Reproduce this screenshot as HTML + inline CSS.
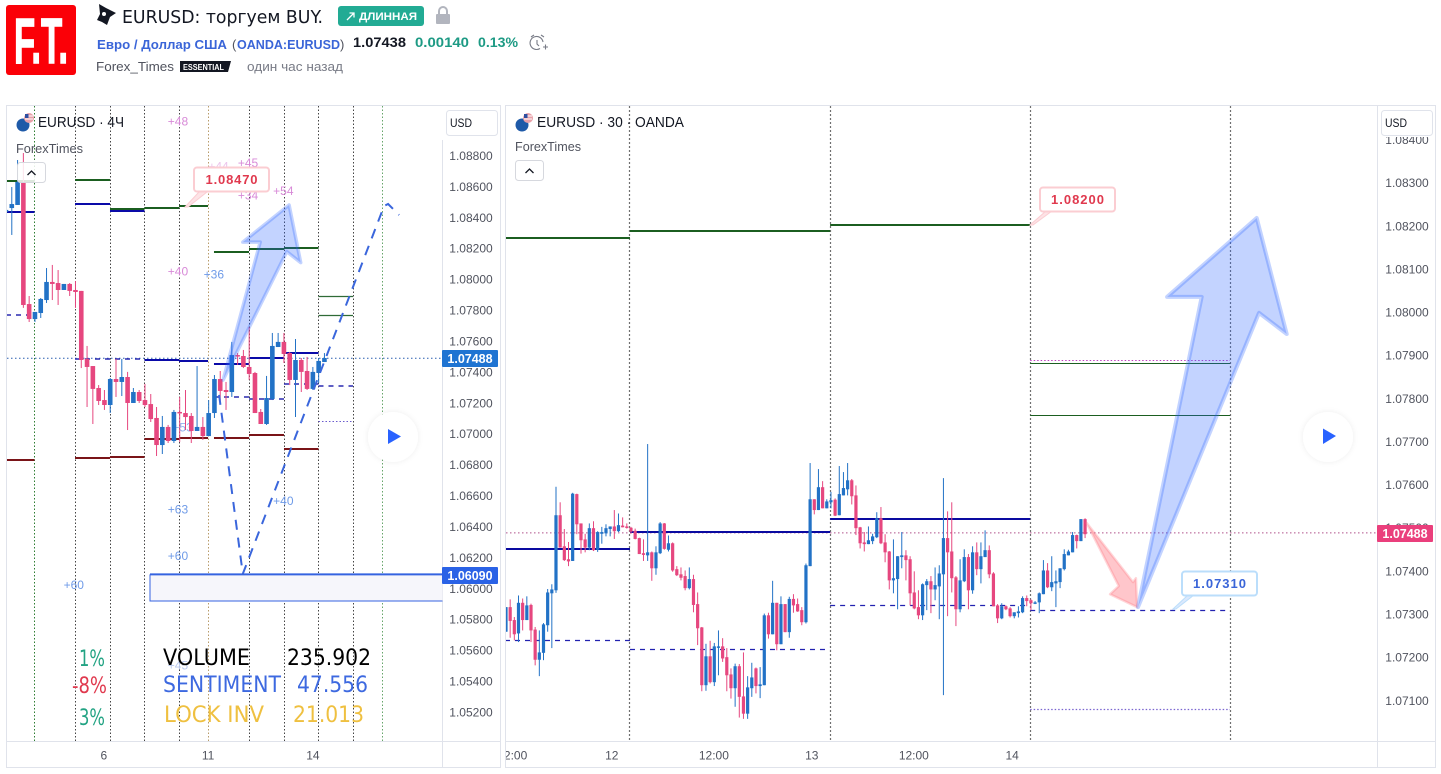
<!DOCTYPE html>
<html lang="ru">
<head>
<meta charset="utf-8">
<title>EURUSD: торгуем BUY.</title>
<style>
html,body{margin:0;padding:0;background:#fff;}
body{width:1441px;height:774px;overflow:hidden;}
svg{display:block;font-family:"Liberation Sans","Noto Sans CJK SC",sans-serif;}
</style>
</head>
<body>
<svg id="stage" xmlns="http://www.w3.org/2000/svg" width="1441" height="774" viewBox="0 0 1441 774">
  <defs>
    <clipPath id="left-clip"><rect x="7" y="106" width="435.5" height="635"/></clipPath>
    <clipPath id="right-clip"><rect x="506" y="106" width="871" height="635"/></clipPath>
    <clipPath id="right-time-clip"><rect x="506" y="742" width="871" height="25"/></clipPath>
    <filter id="soft" x="-30%" y="-30%" width="160%" height="160%"><feDropShadow dx="0" dy="0" stdDeviation="3" flood-color="#000" flood-opacity="0.07"/></filter>
  </defs>
  <rect width="1441" height="774" fill="#ffffff"/>

  <g>
    <g>
      <rect x="6" y="5" width="70" height="70" rx="3" fill="#fb0007"/>
      <text x="14" y="63" font-size="64" font-weight="700" fill="#fff" stroke="#fff" stroke-width="1.500" textLength="54" lengthAdjust="spacingAndGlyphs">F.T.</text>
    </g>
    <polygon points="99,4 106,8 116,13 110,17 107,25 102,22 97,20 100,14" fill="#131722"/>
    <circle cx="104" cy="14" r="2" fill="#fff"/>
    <text x="122" y="23" font-size="18" font-family="DejaVu Sans, sans-serif" fill="#131722" textLength="201" lengthAdjust="spacingAndGlyphs">EURUSD: торгуем BUY.</text>
    <g>
      <rect x="338" y="6" width="86" height="20" rx="3" fill="#22ab94"/>
      <path d="M347 20 L354 13 M349.500 13 L354 13 L354 17.500" stroke="#fff" stroke-width="1.300" fill="none"/>
      <text x="359" y="20" font-size="11" font-weight="700" fill="#fff" textLength="58" lengthAdjust="spacingAndGlyphs">ДЛИННАЯ</text>
    </g>
    <g>
      <path d="M439 14 V11 a4 4 0 0 1 8 0 V14" fill="none" stroke="#b2b5be" stroke-width="2"/>
      <rect x="436" y="14" width="14" height="10" rx="1" fill="#b2b5be"/>
    </g>
    <text x="97" y="49" font-size="12.500" font-weight="700" fill="#3a65d8" textLength="130" lengthAdjust="spacingAndGlyphs">Евро / Доллар США</text>
    <text x="232" y="49" font-size="13" fill="#50535e">(</text>
    <text x="237" y="49" font-size="12.500" font-weight="700" fill="#3a65d8" textLength="103" lengthAdjust="spacingAndGlyphs">OANDA:EURUSD</text>
    <text x="340" y="49" font-size="13" fill="#50535e">)</text>
    <text x="353" y="47" font-size="13.500" font-weight="700" fill="#131722" textLength="53" lengthAdjust="spacingAndGlyphs">1.07438</text>
    <text x="415" y="47" font-size="13.500" font-weight="700" fill="#1d9a84" textLength="54" lengthAdjust="spacingAndGlyphs">0.00140</text>
    <text x="478" y="47" font-size="13.500" font-weight="700" fill="#1d9a84" textLength="40" lengthAdjust="spacingAndGlyphs">0.13%</text>
    <g fill="none" stroke="#787b86" stroke-width="1.100">
      <path d="M543 42 a6.500 6.500 0 1 0 -3 6.500"/>
      <path d="M537 40 v4 l2 2 M531 37 l3 -2 M541 35 l3 2 M543 47 h5 M545.500 44.500 v5"/>
    </g>
    <text x="96" y="71" font-size="13" fill="#50535e" textLength="78" lengthAdjust="spacingAndGlyphs">Forex_Times</text>
    <g>
      <polygon points="180,61 231,61 228,72 180,72" fill="#131722"/>
      <text x="183" y="70" font-size="8" font-weight="700" fill="#fff" textLength="41" lengthAdjust="spacingAndGlyphs">ESSENTIAL</text>
    </g>
    <text x="247" y="71" font-size="13" fill="#787b86" textLength="96" lengthAdjust="spacingAndGlyphs">один час назад</text>
  </g>

  <g fill="none" stroke="#e0e3eb" stroke-width="1">
    <rect x="6.500" y="105.500" width="494" height="662"/>
    <path d="M442.500 140 V767 M7 741.500 H500"/>
  </g>
  <g fill="none" stroke="#e0e3eb" stroke-width="1">
    <rect x="505.500" y="105.500" width="930" height="662"/>
    <path d="M1377.500 106 V767 M506 741.500 H1435"/>
  </g>

  <g id="left-plot" clip-path="url(#left-clip)"></g>
  <g id="right-plot" clip-path="url(#right-clip)"></g>

  <g id="left-axis" font-size="12" fill="#50535e" text-anchor="middle"></g>
  <g id="right-axis" font-size="12" fill="#50535e" text-anchor="middle"></g>
  <g id="left-time" font-size="12" fill="#50535e" text-anchor="middle"></g>
  <g id="right-time" font-size="12" fill="#50535e" text-anchor="middle" clip-path="url(#right-time-clip)"></g>

  <rect x="443" y="106" width="57" height="33" fill="#fff"/>
  <rect x="1378" y="106" width="57" height="31" fill="#fff"/>
  <g>
    <rect x="446.500" y="110.500" width="51" height="25" rx="3" fill="#fff" stroke="#e0e3eb"/>
    <text x="450" y="127" font-size="12" fill="#131722" textLength="22" lengthAdjust="spacingAndGlyphs">USD</text>
  </g>
  <g>
    <rect x="1381.500" y="110.500" width="51" height="25" rx="3" fill="#fff" stroke="#e0e3eb"/>
    <text x="1385" y="127" font-size="12" fill="#131722" textLength="22" lengthAdjust="spacingAndGlyphs">USD</text>
  </g>

  <g>
    <rect x="442" y="350" width="56" height="17" rx="1" fill="#1f74d2"/>
    <text x="470" y="363" font-size="12.500" font-weight="700" fill="#fff" text-anchor="middle">1.07488</text>
  </g>
  <g>
    <rect x="442" y="567" width="56" height="17" rx="1" fill="#2a62e6"/>
    <text x="470" y="580" font-size="12.500" font-weight="700" fill="#fff" text-anchor="middle">1.06090</text>
  </g>
  <g>
    <rect x="1377" y="525" width="56" height="17" rx="1" fill="#ea3f7c"/>
    <text x="1405" y="538" font-size="12.500" font-weight="700" fill="#fff" text-anchor="middle">1.07488</text>
  </g>

  <g>
    <circle cx="23" cy="125" r="6.500" fill="#1e5aa8"/>
    <circle cx="29" cy="118" r="5" fill="#e8a0a8"/>
    <path d="M25 116 h8 M25 119 h8" stroke="#fff" stroke-width="1"/>
    <rect x="25" y="114" width="3.500" height="4" fill="#2d4fa0"/>
    <text x="38" y="127" font-size="15" fill="#131722" textLength="86" lengthAdjust="spacingAndGlyphs">EURUSD · 4Ч</text>
    <text x="16" y="153" font-size="13" fill="#50535e" textLength="67" lengthAdjust="spacingAndGlyphs">ForexTimes</text>
  </g>
  <g>
    <rect x="17.500" y="162.500" width="28" height="20" rx="3" fill="rgba(255,255,255,.85)" stroke="#d6d8de"/>
    <path d="M27.500 175 L31.500 171 L35.500 175" fill="none" stroke="#131722" stroke-width="1.300"/>
  </g>
  <g>
    <circle cx="522" cy="125" r="6.500" fill="#1e5aa8"/>
    <circle cx="528" cy="118" r="5" fill="#e8a0a8"/>
    <path d="M524 116 h8 M524 119 h8" stroke="#fff" stroke-width="1"/>
    <rect x="524" y="114" width="3.500" height="4" fill="#2d4fa0"/>
    <text x="537" y="127" font-size="15" fill="#131722" textLength="147" lengthAdjust="spacingAndGlyphs">EURUSD · 30 · OANDA</text>
    <text x="515" y="151" font-size="13" fill="#50535e" textLength="66" lengthAdjust="spacingAndGlyphs">ForexTimes</text>
  </g>
  <g>
    <rect x="515.500" y="160.500" width="28" height="20" rx="3" fill="#fff" stroke="#d6d8de"/>
    <path d="M525.500 173 L529.500 169 L533.500 173" fill="none" stroke="#131722" stroke-width="1.300"/>
  </g>

  <g>
    <path d="M185 207 L199 192 L207 192 L188 207 Z" fill="#fde3e6" stroke="#fbcdd2"/>
    <rect x="194" y="167.500" width="75" height="24" rx="3" fill="#fff" stroke="#fbcdd2" stroke-width="2"/>
    <text x="231.500" y="184" font-size="13" font-weight="700" fill="#e0394e" text-anchor="middle" textLength="52">1.08470</text>
  </g>
  <g>
    <path d="M1030 225 L1046 211 L1052 211 L1033 225 Z" fill="#fde3e6" stroke="#fbcdd2"/>
    <rect x="1040" y="187.500" width="75" height="24" rx="3" fill="#fff" stroke="#fbcdd2" stroke-width="2"/>
    <text x="1077.500" y="204" font-size="13" font-weight="700" fill="#e0394e" text-anchor="middle" textLength="53">1.08200</text>
  </g>
  <g>
    <path d="M1173 609 L1188 595 L1194 595 L1176 609 Z" fill="#dbe9fd" stroke="#bbdefb"/>
    <rect x="1182" y="571.500" width="75" height="24" rx="3" fill="#fff" stroke="#bbdefb" stroke-width="2"/>
    <text x="1219.500" y="588" font-size="13" font-weight="700" fill="#3a65d8" text-anchor="middle" textLength="53">1.07310</text>
  </g>

  <g>
    <circle cx="393" cy="437" r="25" fill="#fff" filter="url(#soft)"/>
    <polygon points="388,429 401,436.500 388,444" fill="#2962ff"/>
  </g>
  <g>
    <circle cx="1328" cy="437" r="25" fill="#fff" filter="url(#soft)"/>
    <polygon points="1323,428.500 1336,436 1323,444" fill="#2962ff"/>
  </g>

  <g font-size="22" font-family="DejaVu Sans, sans-serif">
    <text x="79" y="666" fill="#22a383" textLength="26" lengthAdjust="spacingAndGlyphs">1%</text>
    <text x="72" y="693" fill="#e0394e" textLength="35" lengthAdjust="spacingAndGlyphs">-8%</text>
    <text x="79" y="725" fill="#22a383" textLength="26" lengthAdjust="spacingAndGlyphs">3%</text>
    <text x="163" y="665" fill="#000" textLength="87" lengthAdjust="spacingAndGlyphs">VOLUME</text>
    <text x="287" y="665" fill="#000" textLength="84" lengthAdjust="spacingAndGlyphs">235.902</text>
    <text x="163" y="692" fill="#3d69e0" textLength="118" lengthAdjust="spacingAndGlyphs">SENTIMENT</text>
    <text x="297" y="692" fill="#3d69e0" textLength="71" lengthAdjust="spacingAndGlyphs">47.556</text>
    <text x="164" y="722" fill="#efc040" textLength="100" lengthAdjust="spacingAndGlyphs">LOCK INV</text>
    <text x="293" y="722" fill="#efc040" textLength="71" lengthAdjust="spacingAndGlyphs">21.013</text>
  </g>
</svg>

<script>
// All prices are stored in points (price x 100000).
const rightOpen=[107259,107316,107286,107255,107326,107286,107321,107264,107194,107210,107274,107348,107355,107529,107457,107427,107423,107578,107510,107473,107454,107499,107449,107486,107487,107497,107503,107492,107505,107503,107500,107493,107476,107441,107436,107443,107406,107441,107510,107449,107464,107404,107392,107388,107360,107381,107323,107269,107135,107202,107142,107222,107225,107200,107160,107128,107179,107109,107069,107128,107174,107133,107135,107297,107253,107326,107230,107323,107258,107335,107323,107309,107281,107411,107566,107541,107594,107545,107559,107565,107529,107575,107589,107610,107575,107501,107466,107462,107469,107478,107522,107466,107445,107378,107381,107432,107436,107427,107350,107316,107297,107367,107376,107357,107364,107392,107476,107445,107385,107311,107376,107432,107355,107443,107404,107432,107448,107394,107320,107290,107318,107313,107295,107302,107304,107337,107332,107325,107327,107346,107401,107362,107371,107374,107404,107436,107443,107483,107469,107520];
const rightHigh=[107316,107334,107293,107343,107336,107341,107324,107270,107262,107279,107358,107369,107595,107559,107497,107467,107581,107579,107510,107486,107510,107515,107492,107502,107508,107503,107541,107533,107524,107510,107502,107498,107477,107473,107694,107445,107457,107513,107511,107482,107466,107411,107408,107401,107408,107391,107350,107270,107231,107238,107233,107262,107244,107221,107174,107185,107184,107211,107156,107187,107176,107177,107301,107303,107377,107326,107341,107323,107340,107346,107336,107316,107417,107650,107566,107636,107608,107566,107583,107568,107643,107629,107650,107613,107598,107502,107490,107503,107486,107536,107548,107485,107446,107473,107434,107490,107448,107434,107399,107355,107371,107381,107388,107408,107413,107615,107538,107559,107388,107427,107450,107439,107457,107466,107466,107494,107459,107397,107323,107325,107320,107316,107304,107318,107341,107343,107334,107330,107350,107425,107418,107434,107401,107406,107450,107449,107490,107484,107520,107522];
const rightLow=[107259,107245,107239,107235,107262,107286,107235,107181,107156,107193,107259,107221,107349,107454,107423,107411,107423,107485,107440,107443,107448,107446,107444,107463,107480,107480,107474,107490,107501,107498,107486,107473,107439,107423,107423,107377,107391,107439,107449,107445,107398,107388,107378,107355,107357,107304,107228,107121,107122,107139,107133,107158,107189,107121,107104,107085,107060,107057,107057,107108,107116,107105,107135,107243,107253,107216,107230,107258,107245,107303,107305,107274,107278,107411,107531,107541,107545,107545,107545,107527,107529,107575,107575,107554,107483,107452,107445,107462,107462,107476,107462,107420,107357,107348,107311,107406,107378,107320,107311,107288,107286,107309,107302,107332,107288,107112,107295,107350,107272,107304,107374,107311,107347,107390,107371,107432,107383,107318,107279,107288,107309,107292,107290,107292,107302,107318,107309,107323,107302,107346,107360,107353,107316,107360,107401,107436,107443,107452,107469,107476];
const rightClose=[107316,107284,107253,107326,107286,107320,107262,107194,107211,107276,107350,107357,107529,107454,107425,107422,107579,107508,107471,107454,107499,107448,107490,107490,107499,107503,107492,107506,107501,107500,107491,107474,107439,107437,107443,107406,107443,107510,107451,107464,107401,107390,107384,107360,107381,107321,107267,107135,107202,107142,107225,107225,107197,107158,107128,107179,107108,107069,107130,107153,107133,107137,107297,107253,107326,107230,107323,107258,107335,107320,107306,107281,107413,107566,107541,107594,107545,107561,107564,107528,107578,107592,107610,107573,107499,107464,107462,107471,107480,107522,107464,107443,107378,107383,107434,107436,107425,107348,107313,107297,107369,107376,107357,107367,107394,107476,107443,107383,107311,107378,107432,107355,107443,107404,107434,107448,107392,107318,107290,107318,107311,107295,107304,107306,107337,107330,107325,107327,107348,107401,107362,107374,107376,107406,107439,107445,107483,107469,107520,107485];

const leftOpen=[108435,108460,108480,108629,107839,107742,107781,107865,107982,107975,107930,107969,107930,107924,107484,107438,107296,107218,107186,107354,107335,107367,107199,107270,107218,107192,107102,106927,107044,106953,107141,107134,107115,107018,107044,106985,107134,107354,107283,107270,107509,107503,107432,107393,107141,107063,107225,107561,107594,107522,107348,107477,107406,107290,107393,107464];
const leftHigh=[108467,108596,108771,108816,107891,107788,107878,108072,108092,108059,107969,107975,107988,107924,107568,107438,107315,107283,107361,107484,107484,107400,107296,107283,107322,107257,107173,107115,107057,107154,107238,107283,107134,107438,107108,107218,107380,107406,107335,107594,107522,107542,107691,107400,107160,107374,107652,107652,107652,107529,107613,107490,107497,107432,107490,107522];
const leftLow=[108370,108286,108480,107814,107723,107723,107749,107846,107865,107833,107930,107891,107814,107425,107173,107063,107186,107154,107134,107238,107244,107024,107199,107199,107173,107076,106856,106869,106940,106940,106947,107024,106940,107018,106960,106985,107102,107205,107154,107238,107445,107425,107348,107134,107063,107057,107218,107561,107458,107315,107108,107270,107283,107283,107328,107464];
const leftClose=[108448,108486,108629,107833,107742,107788,107872,107982,107969,107930,107969,107924,107917,107477,107432,107290,107212,107186,107354,107335,107367,107199,107270,107212,107186,107095,106927,107044,106953,107141,107134,107108,107018,107044,106985,107134,107354,107277,107270,107509,107503,107432,107387,107134,107063,107231,107568,107594,107516,107348,107477,107400,107290,107400,107471,107490];

const leftPriceTicks=['1.08800','1.08600','1.08400','1.08200','1.08000','1.07800','1.07600','1.07400','1.07200','1.07000','1.06800','1.06600','1.06400','1.06200','1.06000','1.05800','1.05600','1.05400','1.05200'];
const rightPriceTicks=['1.08400','1.08300','1.08200','1.08100','1.08000','1.07900','1.07800','1.07700','1.07600','1.07500','1.07400','1.07300','1.07200','1.07100'];
const leftTimeLabels=['6','11','14'];
const leftTimeBars=[16.9,34.9,53];
const rightTimeLabels=['12:00','12','12:00','13','12:00','14'];
const rightTimeBars=[1.5,25.4,49.9,73.4,97.9,121.5];

const leftLastPrice=107488;
const rightLastPrice=107488;

const leftGridBars=[4.92,11.92,18,23.92,29.88,34.89,41.99,48.05,53.97,59.95,65.03];
const leftGridColors=['#2e7d32','#444','#444','#444','#444','#b89b6a','#444','#444','#444','#444','#66a56a'];
const rightGridBars=[29.76,77.8,125.82,173.79];

const leftGreenPrices=[108635,108642,108454,108460,108473,108176,108195,108202];
const leftGreenFrom=[0,11.92,17.96,23.92,29.88,35.92,41.97,48.01];
const leftGreenTo=[4.92,17.96,23.92,29.88,34.89,41.97,48.01,53.97];
const leftThinGreenPrices=[107885,107762];
const leftThinGreenFrom=[53.97,53.97];
const leftThinGreenTo=[59.93,59.93];
const leftNavyPrices=[108435,108486,108441,107477,107471,107451,107490,107522];
const leftNavyFrom=[0,11.92,17.96,23.92,29.88,35.92,41.97,48.01];
const leftNavyTo=[4.92,17.96,23.92,29.88,34.89,41.97,48.01,53.97];
const leftRedPrices=[106830,106843,106850,106966,106973,106973,106992,106901];
const leftRedFrom=[0,11.92,17.96,23.92,29.88,35.92,41.97,48.01];
const leftRedTo=[4.92,17.96,23.92,29.88,34.89,41.97,48.01,53.97];
const leftDashPrices=[107768,107484,107238,107225,107322,107309];
const leftDashFrom=[0,11.92,35.92,41.97,48.01,53.97];
const leftDashTo=[4.92,23.92,41.97,48.01,53.97,59.93];
const leftDotPrices=[107082];
const leftDotFrom=[53.97];
const leftDotTo=[59.93];

const rightGreenPrices=[108171,108189,108201];
const rightGreenFrom=[-0.24,29.76,77.8];
const rightGreenTo=[29.76,77.8,125.82];
const rightThinGreenPrices=[107881,107761];
const rightThinGreenFrom=[125.82,125.82];
const rightThinGreenTo=[173.79,173.79];
const rightNavyPrices=[107450,107489,107520];
const rightNavyFrom=[-0.24,29.76,77.8];
const rightNavyTo=[29.76,77.8,125.82];
const rightDashPrices=[107239,107218,107320,107309];
const rightDashFrom=[-0.24,29.76,77.8,125.82];
const rightDashTo=[29.76,77.8,125.82,173.79];
const rightDotPrices=[107079,107888];
const rightDotFrom=[125.82,125.82];
const rightDotTo=[173.79,173.79];

const leftLabelTexts=['+48','+45','+44','+34','+54','+40','+36','+53','+63','+60','+60','+40','+45'];
const leftLabelBars=[29.7,41.8,36.7,41.8,47.9,29.7,35.9,30.5,29.7,29.7,11.7,47.9,29.7];
const leftLabelPrices=[109020,108750,108730,108540,108570,108050,108030,107040,106510,106210,106020,106565,105500];
const leftLabelColors=['#d88ad8','#d88ad8','#ecc4ec','#d88ad8','#d88ad8','#d88ad8','#6f9be8','#8fb2ee','#6f9be8','#6f9be8','#6f9be8','#6f9be8','#b9c9ee'];

const leftArrowBars=[37.5,43.9,40.9,48.9,50.9,48.5];
const leftArrowPrices=[107348,108240,108240,108480,108107,108178];
const leftPathBars=[36.8,40.9,65.3,66,67.9];
const leftPathPrices=[107251,106093,108473,108486,108415];
const leftZoneFromBar=24.87;
const leftZoneTop=106090;
const leftZoneBottom=105918;

const rightBlueArrowBars=[151.7,167,158.7,180.2,187.4,180.75];
const rightBlueArrowPrices=[107316,108035,108035,108218,107949,107998];
const rightRedArrowBars=[139.4,150.5,151.2,151.5,145,147.1];
const rightRedArrowPrices=[107511,107374,107383,107316,107346,107365];

const NS='http://www.w3.org/2000/svg';
const xL=b=>6+5.79*b;
const yL=p=>155.5+(108800-p)*0.15458;
const xR=b=>506+4.166*b;
const yR=p=>700.3-(p-107100)*0.4314;
const BLUE='#2272c6';
const PINK='#e6477f';

function mk(parent,tag,attrs){
  const el=document.createElementNS(NS,tag);
  for(const k in attrs){el.setAttribute(k,attrs[k]);}
  parent.appendChild(el);
  return el;
}
function points(bars,prices,xf,yf){
  return bars.map((b,i)=>xf(b).toFixed(1)+','+yf(prices[i]).toFixed(1)).join(' ');
}
function gridLines(parent,bars,colors,xf,width,dash){
  bars.forEach((b,i)=>{
    const lx=Math.floor(xf(b))+0.5;
    const line=mk(parent,'line',{x1:lx,x2:lx,y1:106,y2:741,stroke:colors[i%colors.length],'stroke-width':width,'stroke-dasharray':dash});
    
    
  });
}
function levels(parent,prices,from,to,xf,yf,style,name){
  prices.forEach((p,i)=>{
    const raw=yf(p);
    const ly=style['stroke-width']<=1.3?Math.floor(raw)+0.5:Math.round(raw);
    const s=Object.assign({x1:xf(from[i]),x2:xf(to[i]),y1:ly,y2:ly},style);
    const line=mk(parent,'line',s);
    
    
  });
}
function candles(parent,opens,highs,lows,closes,xf,yf,bodyW){
  opens.forEach((o,i)=>{
    const c=closes[i];
    const col=c>=o?BLUE:PINK;
    const x=xf(i);
    const g=mk(parent,'g',{});
    
    
    const wick=mk(g,'line',{x1:x,x2:x,y1:yf(highs[i]),y2:yf(lows[i]),stroke:col,'stroke-width':1});
    
    
    const top=yf(Math.max(o,c));
    const h=Math.max(1.5,yf(Math.min(o,c))-top);
    const body=mk(g,'rect',{x:x-bodyW/2,y:top,width:bodyW,height:h,fill:col});
    
    
  });
}
function lastPriceLine(parent,y,x1,x2,color){
  const line=mk(parent,'line',{x1:x1,x2:x2,y1:y,y2:y,stroke:color,'stroke-width':1,'stroke-dasharray':'1.5 2.5'});
  
  
}
function priceTicks(parent,labels,yf,cx){
  labels.forEach(t=>{
    const el=mk(parent,'text',{x:cx,y:yf(Math.round(parseFloat(t)*100000))+4.5});
    el.textContent=t;
    
    
  });
}
function timeTicks(parent,labels,bars,xf){
  labels.forEach((t,i)=>{
    const el=mk(parent,'text',{x:xf(bars[i]),y:759.5});
    el.textContent=t;
    
    
  });
}

// ---------- left chart ----------
const LP=document.getElementById('left-plot');
gridLines(LP,leftGridBars,leftGridColors,xL,1,'1.5 2');
leftLabelTexts.forEach((t,i)=>{
  const el=mk(LP,'text',{x:xL(leftLabelBars[i]),y:yL(leftLabelPrices[i])+4,'font-size':12,'text-anchor':'middle',fill:leftLabelColors[i]});
  el.textContent=t;
  
  
});
const zone=mk(LP,'rect',{x:xL(leftZoneFromBar),y:yL(leftZoneTop),width:442.5-xL(leftZoneFromBar),height:yL(leftZoneBottom)-yL(leftZoneTop),fill:'#f6f6fb',stroke:'none'});


const zoneTop=mk(LP,'line',{x1:xL(leftZoneFromBar),x2:442.5,y1:yL(leftZoneTop),y2:yL(leftZoneTop),stroke:'#3563e0','stroke-width':2});


const zoneEdge=mk(LP,'path',{d:'M'+xL(leftZoneFromBar)+' '+yL(leftZoneTop)+' V'+yL(leftZoneBottom)+' H442.5',fill:'none',stroke:'#3563e0','stroke-width':1});


lastPriceLine(LP,yL(leftLastPrice),7,442,'#2a5fb0');
levels(LP,leftGreenPrices,leftGreenFrom,leftGreenTo,xL,yL,{stroke:'#1b5e20','stroke-width':2},'green-level');
levels(LP,leftThinGreenPrices,leftThinGreenFrom,leftThinGreenTo,xL,yL,{stroke:'#2f6b36','stroke-width':1.2},'thin-green-level');
levels(LP,leftNavyPrices,leftNavyFrom,leftNavyTo,xL,yL,{stroke:'#0a0aa8','stroke-width':2},'navy-level');
levels(LP,leftRedPrices,leftRedFrom,leftRedTo,xL,yL,{stroke:'#7a1418','stroke-width':2},'dark-red-level');
levels(LP,leftDashPrices,leftDashFrom,leftDashTo,xL,yL,{stroke:'#2a2ab0','stroke-width':1.5,'stroke-dasharray':'5 5'},'dashed-level');
levels(LP,leftDotPrices,leftDotFrom,leftDotTo,xL,yL,{stroke:'#6a5acd','stroke-width':1,'stroke-dasharray':'1.5 2'},'dotted-level');
candles(LP,leftOpen,leftHigh,leftLow,leftClose,xL,yL,4.6);
const lArrow=mk(LP,'polygon',{points:points(leftArrowBars,leftArrowPrices,xL,yL),fill:'rgba(41,98,255,.28)',stroke:'rgba(41,98,255,.28)','stroke-width':3.5,'stroke-linejoin':'round'});


const lPath=mk(LP,'polyline',{points:points(leftPathBars,leftPathPrices,xL,yL),fill:'none',stroke:'#3a66dc','stroke-width':2,'stroke-dasharray':'10 8'});



// ---------- right chart ----------
const RP=document.getElementById('right-plot');
gridLines(RP,rightGridBars,['#707070'],xR,1.2,'2 2');
lastPriceLine(RP,yR(rightLastPrice),506,1377,'#b0508a');
levels(RP,rightGreenPrices,rightGreenFrom,rightGreenTo,xR,yR,{stroke:'#1b5e20','stroke-width':2},'green-level');
levels(RP,rightThinGreenPrices,rightThinGreenFrom,rightThinGreenTo,xR,yR,{stroke:'#1b5e20','stroke-width':1},'thin-green-level');
levels(RP,rightNavyPrices,rightNavyFrom,rightNavyTo,xR,yR,{stroke:'#0a0aa0','stroke-width':2},'navy-level');
levels(RP,rightDashPrices,rightDashFrom,rightDashTo,xR,yR,{stroke:'#2222b0','stroke-width':1.3,'stroke-dasharray':'5 5'},'dashed-level');
levels(RP,rightDotPrices.slice(0,1),rightDotFrom.slice(0,1),rightDotTo.slice(0,1),xR,yR,{stroke:'#7a64d0','stroke-width':1.2,'stroke-dasharray':'1.5 2'},'dotted-level');
levels(RP,rightDotPrices.slice(1),rightDotFrom.slice(1),rightDotTo.slice(1),xR,yR,{stroke:'#c040c0','stroke-width':1,'stroke-dasharray':'1.5 2'},'dotted-level');
candles(RP,rightOpen,rightHigh,rightLow,rightClose,xR,yR,3.2);
const rRed=mk(RP,'polygon',{points:points(rightRedArrowBars,rightRedArrowPrices,xR,yR),fill:'rgba(255,120,130,.42)',stroke:'rgba(255,120,130,.3)','stroke-width':2.5,'stroke-linejoin':'round'});


const rBlue=mk(RP,'polygon',{points:points(rightBlueArrowBars,rightBlueArrowPrices,xR,yR),fill:'rgba(41,98,255,.28)',stroke:'rgba(41,98,255,.28)','stroke-width':4,'stroke-linejoin':'round'});



// ---------- axes ----------
priceTicks(document.getElementById('left-axis'),leftPriceTicks,yL,471);
priceTicks(document.getElementById('right-axis'),rightPriceTicks,yR,1407);
timeTicks(document.getElementById('left-time'),leftTimeLabels,leftTimeBars,xL);
timeTicks(document.getElementById('right-time'),rightTimeLabels,rightTimeBars,xR);
</script>
</body>
</html>
